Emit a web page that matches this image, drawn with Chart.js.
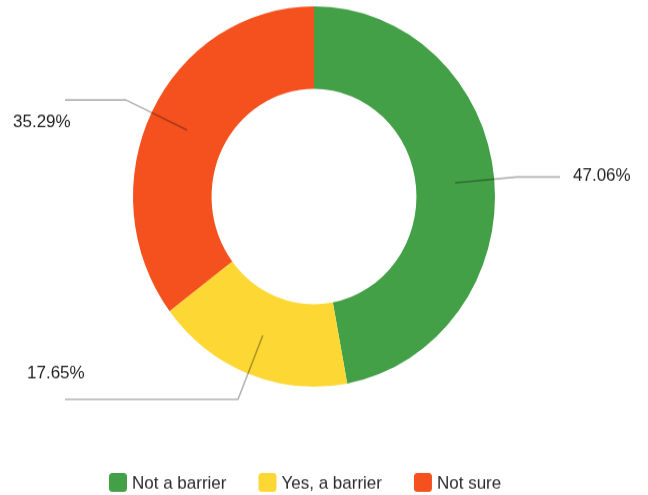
<!DOCTYPE html>
<html><head><meta charset="utf-8">
<style>html,body{margin:0;padding:0;background:#fff;overflow:hidden}
#c{display:block}</style>
<script src="https://cdn.jsdelivr.net/npm/chart.js@4.4.1/dist/chart.umd.min.js"></script>
</head><body>
<canvas id="c" width="648" height="471" style="width:648px;height:495px"></canvas>
<script>
// ---- data ----
const categories = ['Not a barrier', 'Yes, a barrier', 'Not sure'];
const values = [47.06, 17.65, 35.29];
const colors = ['#43A047', '#FDD835', '#F4511E'];

// ---- label / leader layout (canvas coordinates) ----
const leaderLayout = [
  { elbow: [517, 168.4], end: [560, 168.4], text: [573, 167.7] },
  { elbow: [238, 380],   end: [65, 380],    text: [27, 355.2] },
  { elbow: [126, 95.1],  end: [65, 95.1],   text: [13, 116.3] }
];
const FONT = '17px "Liberation Sans", Arial, sans-serif';
const TEXT_COLOR = '#1f1f1f';

const leaderPlugin = {
  id: 'leaders',
  afterDatasetsDraw(chart) {
    const ctx = chart.ctx;
    const meta = chart.getDatasetMeta(0);
    ctx.save();
    meta.data.forEach((arc, i) => {
      const p = arc.getCenterPoint();
      const L = leaderLayout[i];
      ctx.beginPath();
      ctx.moveTo(p.x, p.y);
      ctx.lineTo(L.elbow[0], L.elbow[1]);
      ctx.lineTo(L.end[0], L.end[1]);
      ctx.strokeStyle = 'rgba(0,0,0,0.3)';
      ctx.lineWidth = 1.6;
      ctx.lineJoin = 'round';
      ctx.stroke();
      ctx.font = FONT;
      ctx.fillStyle = TEXT_COLOR;
      ctx.textAlign = 'left';
      ctx.textBaseline = 'middle';
      ctx.fillText(chart.data.datasets[0].data[i].toFixed(2) + '%', L.text[0], L.text[1]);
    });
    ctx.restore();
  }
};

const legendPlugin = {
  id: 'customLegend',
  afterDraw(chart) {
    const ctx = chart.ctx;
    ctx.save();
    ctx.font = FONT;
    ctx.textBaseline = 'middle';
    ctx.textAlign = 'left';
    let x = 109;
    const cy = 459;
    const box = 18, gap = 5, itemGap = 32;
    chart.data.labels.forEach((lab, i) => {
      ctx.fillStyle = chart.data.datasets[0].backgroundColor[i];
      ctx.beginPath();
      ctx.roundRect(x, cy - box / 2, box, box, 3.5);
      ctx.fill();
      ctx.fillStyle = '#2a2a2a';
      ctx.fillText(lab, x + box + gap, cy + 1);
      x += box + gap + ctx.measureText(lab).width + itemGap;
    });
    ctx.restore();
  }
};

new Chart(document.getElementById('c'), {
  type: 'doughnut',
  data: {
    labels: categories,
    datasets: [{
      data: values,
      backgroundColor: colors,
      borderWidth: 0,
      hoverOffset: 0,
      offset: 0
    }]
  },
  options: {
    responsive: false,
    animation: false,
    events: [],
    cutout: '56.6%',
    layout: { padding: { top: 6, bottom: 103, left: 0, right: 20 } },
    plugins: {
      legend: { display: false },
      tooltip: { enabled: false }
    }
  },
  plugins: [leaderPlugin, legendPlugin]
});
</script>
</body></html>
